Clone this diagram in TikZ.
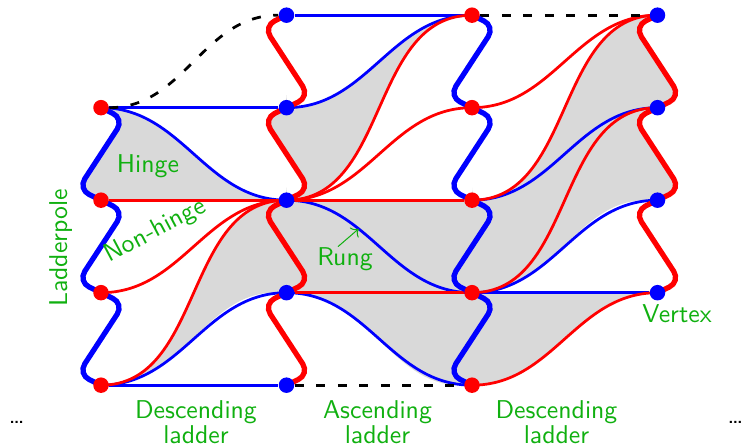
\documentclass[tikz,border=0pt]{standalone}
\usetikzlibrary{positioning,arrows.meta}
\definecolor{lgreen}{HTML}{10B010}
\pgfdeclarelayer{bg}
\pgfsetlayers{bg,main}

\begin{document}
\begin{tikzpicture}[x=0.4pt,y=-0.4pt,
  on grid,node distance=37pt and 74.2pt,
  rdot/.style={circle,fill=red,inner sep=0pt,minimum size=6.2pt},
  bdot/.style={circle,fill=blue,inner sep=0pt,minimum size=6.2pt},
  link/.style={line width=1.1pt},
  pole/.style={line width=2.1pt},
  dashlink/.style={black,line width=1.1pt,dash pattern=on 3.6pt off 5pt},
  hingefill/.style={fill=gray!30},
  zig/.style 2 args={to path={[rounded corners=5pt] -- ([shift={(#1)}]\tikztostart)
    -- ([shift={(#2)}]\tikztotarget) -- (\tikztotarget)}},
  eastdown/.style={zig={23,11}{-23,-11}},
  eastup/.style={zig={-23,-11}{23,11}},
  westdown/.style={zig={-23,11}{23,-11}},
  westup/.style={zig={23,-11}{-23,11}},
  swing/.style={out=0,in=180},
  swingback/.style={out=180,in=0},
  lbl/.style={text=lgreen,inner sep=0pt,font=\sffamily\fontsize{10.3}{10}\selectfont},
  lblarrow/.style={lgreen,line width=0.4pt,-{To[length=2.5pt]}}]
\useasboundingbox (0,0) rectangle (748,444);
% vertices
\node[rdot] (a1) at (101,107.7) {};
\node[rdot,below=of a1] (a2) {};
\node[rdot,below=of a2] (a3) {};
\node[rdot,below=of a3] (a4) {};
\node[bdot,right=of a1] (b1) {};
\node[bdot,above=of b1] (b0) {};
\node[bdot,below=of b1] (b2) {};
\node[bdot,below=of b2] (b3) {};
\node[bdot,below=of b3] (b4) {};
\node[rdot,right=of b0] (c0) {};
\node[rdot,below=of c0] (c1) {};
\node[rdot,below=of c1] (c2) {};
\node[rdot,below=of c2] (c3) {};
\node[rdot,below=of c3] (c4) {};
\node[bdot,right=of c0] (d0) {};
\node[bdot,below=of d0] (d1) {};
\node[bdot,below=of d1] (d2) {};
\node[bdot,below=of d2] (d3) {};
\begin{pgfonlayer}{bg}
% hinges
\fill[hingefill] (a1.center) to[eastdown] (a2.center) -- (b2.center) to[swingback] (a1.center) -- cycle;
\fill[hingefill] (b1.center) to[swing] (c0.center) to[swingback] (b2.center) to[westup] (b1.center) -- cycle;
\fill[hingefill] (a4.center) to[swing] (b2.center) to[westdown] (b3.center) to[swingback] (a4.center) -- cycle;
\fill[hingefill] (b2.center) -- (c2.center) to[eastdown] (c3.center) -- (b3.center) to[westup] (b2.center) -- cycle;
\fill[hingefill] (b3.center) -- (c3.center) to[eastdown] (c4.center) to[swingback] (b3.center) -- cycle;
\fill[hingefill] (c2.center) to[swing] (d0.center) to[westdown] (d1.center) to[westdown] (d2.center)
  to[swingback] (c3.center) to[eastup] (c2.center) -- cycle;
\fill[hingefill] (c3.center) -- (d3.center) to[swingback] (c4.center) to[eastup] (c3.center) -- cycle;
% blue rungs
\draw[link,blue] (a1) -- (b1);
\draw[link,blue] (a1.center) to[swing] (b2.center);
\draw[link,blue] (a4) -- (b4);
\draw[link,blue] (a4.center) to[swing] (b3.center);
\draw[link,blue] (b0) -- (c0);
\draw[link,blue] (b1.center) to[swing] (c0.center);
\draw[link,blue] (b2.center) to[swing] coordinate[pos=0.37] (rungpt) (c3.center);
\draw[link,blue] (b3.center) to[swing] (c4.center);
\draw[link,blue] (c2.center) to[swing] (d1.center);
\draw[link,blue] (c3.center) to[swing] (d2.center);
\draw[link,blue] (c3) -- (d3);
% red rungs
\draw[link,red] (a2) -- (b2);
\draw[link,red] (a3.center) to[swing] (b2.center);
\draw[link,red] (a4.center) to[swing] (b2.center);
\draw[link,red] (b2.center) to[swing] (c0.center);
\draw[link,red] (b2.center) to[swing] (c1.center);
\draw[link,red] (b2) -- (c2);
\draw[link,red] (b3) -- (c3);
\draw[link,red] (c1.center) to[swing] (d0.center);
\draw[link,red] (c2.center) to[swing] (d0.center);
\draw[link,red] (c3.center) to[swing] (d1.center);
\draw[link,red] (c4.center) to[swing] (d3.center);
% continuation
\draw[dashlink] (a1) to[swing] (b0);
\draw[dashlink] (c0) -- (d0);
\draw[dashlink] (b4) -- (c4);
% ladderpoles
\draw[pole,blue] (a1.center) to[eastdown] (a2.center) to[eastdown] (a3.center) to[eastdown] (a4.center);
\draw[pole,red] (b0.center) to[westdown] (b1.center) to[westdown] (b2.center) to[westdown] (b3.center)
  to[westdown] (b4.center);
\draw[pole,blue] (c0.center) to[eastdown] (c1.center) to[eastdown] (c2.center) to[eastdown] (c3.center)
  to[eastdown] (c4.center);
\draw[pole,red] (d0.center) to[westdown] (d1.center) to[westdown] (d2.center) to[westdown] (d3.center);
\end{pgfonlayer}
% labels
\node[lbl,anchor=base] (hingelbl) at (148,173) {Hinge};
\node[lbl,anchor=base,rotate=90] (polelbl) at (67,248) {Ladderpole};
\node[lbl,anchor=base,rotate=28] (nonhingelbl) at (158.5,237) {Non-hinge};
\node[lbl,anchor=base] (runglbl) at (345,266) {Rung};
\node[lbl,anchor=base] (vertexlbl) at (677,323) {Vertex};
\node[lbl,anchor=north,align=center] (desc1) at (196,400) {Descending\\ladder};
\node[lbl,anchor=north,align=center] (asc) at (377.5,400) {Ascending\\ladder};
\node[lbl,anchor=north,align=center] (desc2) at (556.5,400) {Descending\\ladder};
\node[lbl,text=black] (dotsl) at (16.7,422) {\ldots};
\node[lbl,text=black] (dotsr) at (735.5,422) {\ldots};
\draw[lblarrow] ([shift={(-7,-1)}]runglbl.north) -- (rungpt);
\end{tikzpicture}
\end{document}
